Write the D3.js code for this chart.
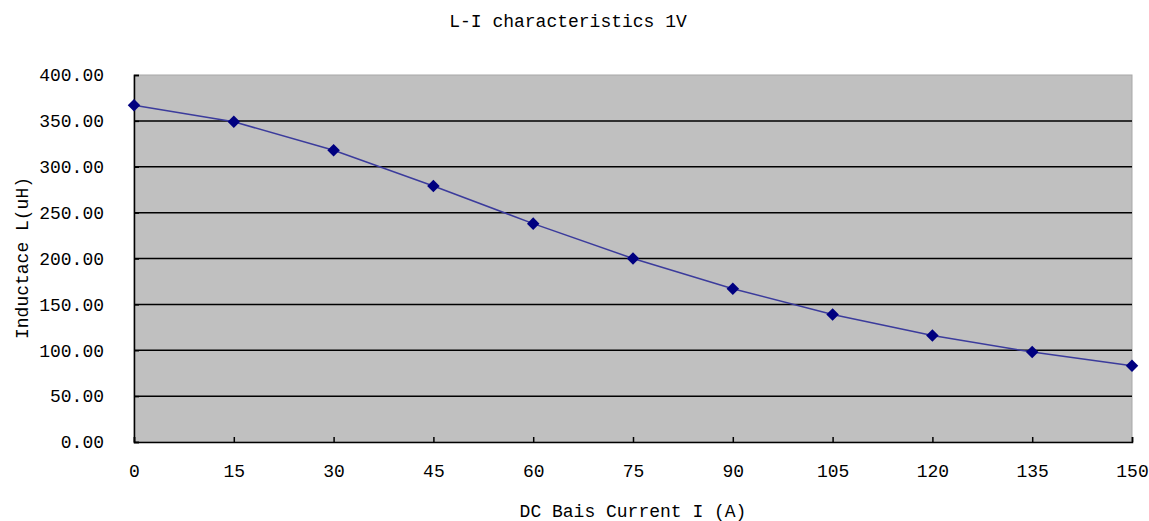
<!DOCTYPE html>
<html>
<head>
<meta charset="utf-8">
<script src="https://cdn.jsdelivr.net/npm/d3@7"></script>
<style>
  body { margin: 0; background: #fff; }
  text { font-family: "Liberation Mono", "DejaVu Sans Mono", monospace; fill: #000; }
</style>
</head>
<body>
<svg id="chart"></svg>
<script>
const currents = [0, 15, 30, 45, 60, 75, 90, 105, 120, 135, 150];
const inductance = [367, 349, 318, 279, 238, 200, 167, 139, 116, 98, 83];
const yTicks = [0, 50, 100, 150, 200, 250, 300, 350, 400];

const width = 1149, height = 521;
const margin = { top: 75, right: 17, bottom: 79, left: 134 };

const svg = d3.select('#chart')
  .attr('width', width)
  .attr('height', height);

const x = d3.scaleLinear()
  .domain([0, 150])
  .range([margin.left, width - margin.right]);

const y = d3.scaleLinear()
  .domain([0, 400])
  .range([height - margin.bottom, margin.top]);

// plot area
svg.append('rect')
  .attr('x', x(0))
  .attr('y', y(400))
  .attr('width', x(150) - x(0))
  .attr('height', y(0) - y(400))
  .attr('fill', '#c0c0c0')
  .attr('stroke', '#a8a8a8')
  .attr('stroke-width', 1);

// gridlines
svg.selectAll('.grid')
  .data(yTicks.filter(d => d > 0 && d < 400))
  .join('line')
  .attr('class', 'grid')
  .attr('x1', x(0))
  .attr('x2', x(150))
  .attr('y1', d => y(d))
  .attr('y2', d => y(d))
  .attr('stroke', '#000')
  .attr('stroke-width', 1.5);

// y axis
const yAxis = svg.append('g')
  .attr('transform', `translate(${x(0)},0)`)
  .call(d3.axisLeft(y).tickValues(yTicks).tickSize(-5).tickPadding(30)
    .tickFormat(d3.format('.2f')));
yAxis.select('.domain').attr('stroke', '#000').attr('stroke-width', 1.5);
yAxis.selectAll('.tick line').attr('stroke', '#000').attr('stroke-width', 1.5);
yAxis.selectAll('text').attr('font-size', 18).attr('fill', '#000');

// x axis
const xAxis = svg.append('g')
  .attr('transform', `translate(0,${y(0)})`)
  .call(d3.axisBottom(x).tickValues(currents).tickSize(-5).tickPadding(22));
xAxis.select('.domain').attr('stroke', '#000').attr('stroke-width', 1.5);
xAxis.selectAll('.tick line').attr('stroke', '#000').attr('stroke-width', 1.5);
xAxis.selectAll('text').attr('font-size', 18).attr('fill', '#000');

// line
const line = d3.line()
  .x((d, i) => x(currents[i]))
  .y(d => y(d));

svg.append('path')
  .datum(inductance)
  .attr('d', line)
  .attr('fill', 'none')
  .attr('stroke', '#3b3b9c')
  .attr('stroke-width', 1.5);

// diamond markers
svg.selectAll('.pt')
  .data(inductance)
  .join('path')
  .attr('class', 'pt')
  .attr('d', d3.symbol().type(d3.symbolDiamond2).size(100))
  .attr('transform', (d, i) => `translate(${x(currents[i])},${y(d)})`)
  .attr('fill', '#000080');

// titles
svg.append('text')
  .attr('x', 568)
  .attr('y', 27)
  .attr('text-anchor', 'middle')
  .attr('font-size', 18)
  .text('L-I characteristics 1V');

svg.append('text')
  .attr('x', 633)
  .attr('y', 517)
  .attr('text-anchor', 'middle')
  .attr('font-size', 18)
  .text('DC Bais Current I (A)');

svg.append('text')
  .attr('transform', 'translate(28,258) rotate(-90)')
  .attr('text-anchor', 'middle')
  .attr('font-size', 18)
  .text('Inductace L(uH)');
</script>
</body>
</html>
